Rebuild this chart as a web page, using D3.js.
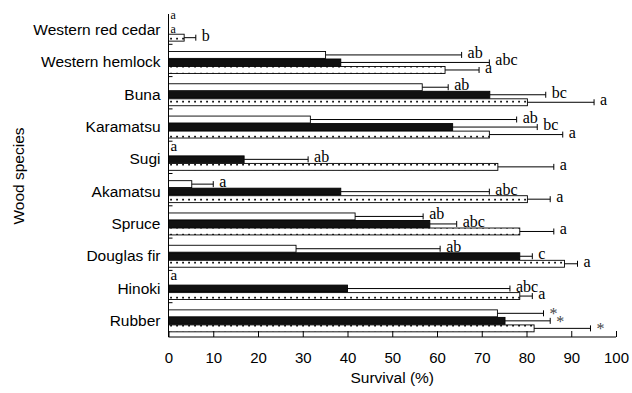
<!DOCTYPE html>
<html>
<head>
<meta charset="utf-8">
<script src="https://cdn.jsdelivr.net/npm/d3@7"></script>
<style>
  body { margin: 0; background: #fff; }
  svg { display: block; }
</style>
</head>
<body>
<svg id="chart"></svg>
<script>
// data
const species = ["Western red cedar", "Western hemlock", "Buna", "Karamatsu", "Sugi",
                 "Akamatsu", "Spruce", "Douglas fir", "Hinoki", "Rubber"];
const openMean = [0, 35.1, 56.7, 31.7, 0, 5.2, 41.7, 28.5, 0, 73.5];
const openErr = [0, 30.4, 5.8, 46.1, 0, 4.8, 15.2, 32.2, 0, 10.3];
const openLetters = ["a", "ab", "ab", "ab", "a", "a", "ab", "ab", "a", "*"];
const solidMean = [0, 38.5, 71.8, 63.5, 16.9, 38.5, 58.4, 78.5, 40.0, 75.2];
const solidErr = [0, 33.2, 12.5, 18.9, 14.3, 33.2, 6.0, 2.8, 36.3, 10.1];
const solidLetters = ["a", "abc", "bc", "bc", "ab", "abc", "abc", "c", "abc", "*"];
const dotMean = [3.5, 61.8, 80.2, 71.7, 73.6, 80.2, 78.5, 88.5, 78.5, 81.7];
const dotErr = [2.6, 7.6, 14.9, 16.4, 12.5, 5.1, 7.6, 2.9, 2.8, 12.6];
const dotLetters = ["b", "a", "a", "a", "a", "a", "a", "a", "a", "*"];
const xTicks = [0, 10, 20, 30, 40, 50, 60, 70, 80, 90, 100];

const width = 632, height = 393
const margin = { top: 14, left: 168.5, right: 16, bottom: 56 }

const svg = d3.select("#chart").attr("width", width).attr("height", height)

// dotted fill for the third series
const defs = svg.append("defs")
const pat = defs.append("pattern")
    .attr("id", "dots")
    .attr("patternUnits", "userSpaceOnUse")
    .attr("width", 6).attr("height", 7)
pat.append("rect").attr("width", 6).attr("height", 7).attr("fill", "#fff")
pat.append("rect").attr("x", 2.2).attr("y", 2.8).attr("width", 1.7).attr("height", 1.7).attr("fill", "#000")

const series = [
    { key: "open", mean: openMean, err: openErr, letters: openLetters, fill: "#fff" },
    { key: "solid", mean: solidMean, err: solidErr, letters: solidLetters, fill: "#111" },
    { key: "dotted", mean: dotMean, err: dotErr, letters: dotLetters, fill: "url(#dots)" }
]

const x = d3.scaleLinear().domain([0, 100]).range([margin.left, width - margin.right])
const y = d3.scaleBand().domain(species)
    .range([margin.top, height - margin.bottom])
    .paddingInner(0.32).paddingOuter(0.16)
const ySub = d3.scaleBand().domain(series.map(s => s.key))
    .range([0, y.bandwidth()]).paddingInner(0.08)

const rows = []
series.forEach(s => {
    species.forEach((sp, i) => {
        rows.push({ sp: sp, i: i, key: s.key, fill: s.fill, mean: s.mean[i], err: s.err[i], letter: s.letters[i] })
    })
})

const g = svg.append("g")

// bars
g.selectAll("rect.bar").data(rows).enter().append("rect")
    .attr("class", "bar")
    .attr("x", x(0))
    .attr("y", d => y(d.sp) + ySub(d.key))
    .attr("width", d => x(d.mean) - x(0))
    .attr("height", ySub.bandwidth())
    .attr("fill", d => d.fill)
    .attr("stroke", "#000")
    .attr("stroke-width", 0.9)

// error bars
const cy = d => y(d.sp) + ySub(d.key) + ySub.bandwidth() / 2
const eb = g.selectAll("g.err").data(rows.filter(d => d.err > 0)).enter().append("g").attr("class", "err")
eb.append("line")
    .attr("x1", d => x(d.mean)).attr("x2", d => x(d.mean + d.err))
    .attr("y1", cy).attr("y2", cy)
    .attr("stroke", "#000").attr("stroke-width", 1)
eb.append("line")
    .attr("x1", d => x(d.mean + d.err)).attr("x2", d => x(d.mean + d.err))
    .attr("y1", d => cy(d) - 3).attr("y2", d => cy(d) + 3)
    .attr("stroke", "#000").attr("stroke-width", 1)

// significance letters; two stacked zero bars get smaller, spread-out letters
const stacked = d => d.mean === 0 && openMean[d.i] === 0 && solidMean[d.i] === 0
function letterY(d) {
    if (d.letter === "*") return cy(d) + 6
    if (stacked(d)) return cy(d) + (d.key === "open" ? -4 : 2.5)
    if (d.mean === 0) return cy(d) - 1
    return cy(d) + 3
}
g.selectAll("text.sig").data(rows).enter().append("text")
    .attr("class", "sig")
    .attr("x", d => d.err > 0 ? x(d.mean + d.err) + 6 : x(0) + 2)
    .attr("y", letterY)
    .style("font-family", "'Liberation Serif', 'DejaVu Serif', serif")
    .style("font-size", d => stacked(d) ? "12px" : (d.mean === 0 ? "15px" : "16px"))
    .attr("fill", d => d.letter === "*" ? "#444" : "#000")
    .text(d => d.letter)

// x axis
const xAxis = d3.axisBottom(x).tickValues(xTicks).tickSize(-6).tickPadding(15).tickFormat(d3.format("d"))
const xg = svg.append("g")
    .attr("transform", "translate(0," + (height - margin.bottom) + ")")
    .call(xAxis)
xg.select(".domain").attr("d", "M" + x(0) + ",0H" + x(100)).attr("stroke", "#000")
xg.selectAll(".tick line").attr("stroke", "#000")
xg.selectAll("text")
    .style("font-family", "'Liberation Sans', Arial, sans-serif")
    .style("font-size", "15px")
    .attr("fill", "#000")

// y axis
const yAxis = d3.axisLeft(y).tickSize(0).tickPadding(8)
const yg = svg.append("g")
    .attr("transform", "translate(" + x(0) + ",0)")
    .call(yAxis)
yg.select(".domain").attr("d", "M0," + margin.top + "V" + (height - margin.bottom)).attr("stroke", "#000")
yg.selectAll("text")
    .style("font-family", "'Liberation Sans', Arial, sans-serif")
    .style("font-size", "15.5px")
    .attr("fill", "#000")

// small inward ticks between species groups
const step = y.step()
yg.selectAll("line.sep").data(species.slice(1)).enter().append("line")
    .attr("class", "sep")
    .attr("x1", 0).attr("x2", 4)
    .attr("y1", d => y(d) - step * 0.16 - 2).attr("y2", d => y(d) - step * 0.16 - 2)
    .attr("stroke", "#000")

// axis titles
svg.append("text")
    .attr("x", (x(0) + x(100)) / 2)
    .attr("y", 383)
    .attr("text-anchor", "middle")
    .style("font-family", "'Liberation Sans', Arial, sans-serif")
    .style("font-size", "15.5px")
    .text("Survival (%)")

svg.append("text")
    .attr("transform", "translate(24," + 176 + ") rotate(-90)")
    .attr("text-anchor", "middle")
    .style("font-family", "'Liberation Sans', Arial, sans-serif")
    .style("font-size", "15.5px")
    .text("Wood species")
</script>
</body>
</html>
